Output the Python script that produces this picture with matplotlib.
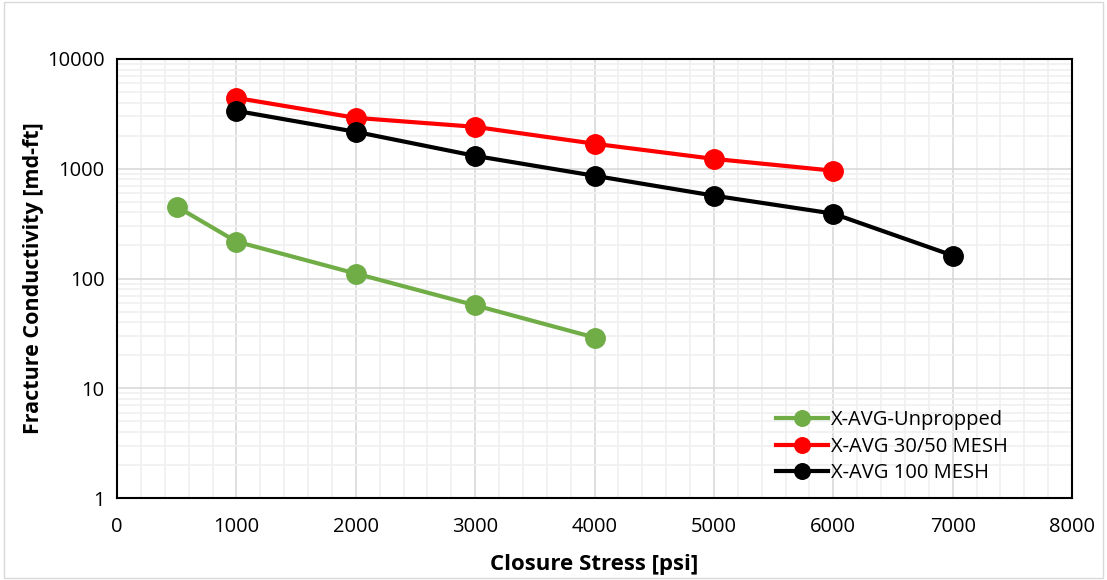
import numpy as np
import matplotlib.pyplot as plt
from matplotlib.ticker import MultipleLocator, LogLocator, NullFormatter, FixedLocator

plt.rcParams['font.family'] = ['Open Sans', 'DejaVu Sans']

stress_unpropped = [500, 1000, 2000, 3000, 4000]
cond_unpropped = [452, 217, 111, 57, 29]

stress_3050 = [1000, 2000, 3000, 4000, 5000, 6000]
cond_3050 = [4420, 2910, 2410, 1690, 1230, 960]

stress_100 = [1000, 2000, 3000, 4000, 5000, 6000, 7000]
cond_100 = [3370, 2170, 1310, 863, 569, 390, 162]

fig = plt.figure(figsize=(11.07, 5.8), dpi=100)
ax = fig.add_axes([117 / 1107, 1 - 498 / 580, (1072 - 117) / 1107, (498 - 59) / 580])

ax.plot(stress_unpropped, cond_unpropped, color='#70ad47', marker='o', ms=14, lw=3,
        label='X-AVG-Unpropped', zorder=3)
ax.plot(stress_3050, cond_3050, color='#ff0000', marker='o', ms=14, lw=3,
        label='X-AVG 30/50 MESH', zorder=3)
ax.plot(stress_100, cond_100, color='black', marker='o', ms=14, lw=3,
        label='X-AVG 100 MESH', zorder=3)

ax.set_yscale('log')
ax.set_xlim(0, 8000)
ax.set_ylim(1, 10000)
ax.xaxis.set_major_locator(MultipleLocator(1000))
ax.xaxis.set_minor_locator(MultipleLocator(200))
ax.yaxis.set_major_locator(FixedLocator([1, 10, 100, 1000, 10000]))
ax.yaxis.set_minor_locator(LogLocator(base=10, subs=np.arange(2, 10)))
ax.yaxis.set_minor_formatter(NullFormatter())
ax.set_yticklabels(['1', '10', '100', '1000', '10000'])

ax.grid(which='major', color='#d9d9d9', lw=1.2)
ax.grid(which='minor', color='#f0f0f0', lw=1.2)
ax.tick_params(which='both', length=0, labelsize=14.5)
ax.tick_params(axis='x', pad=14)
ax.tick_params(axis='y', pad=9)
for s in ax.spines.values():
    s.set_linewidth(1.5)
    s.set_color('black')

ax.set_xlabel('Closure Stress [psi]', fontsize=16, fontweight='bold')
ax.set_ylabel('Fracture Conductivity [md-ft]', fontsize=15.5, fontweight='bold')
ax.xaxis.set_label_coords(0.5, -0.128)
ax.yaxis.set_label_coords(-0.076, 0.5)

ax.legend(loc='lower right', frameon=False, fontsize=14.5, handlelength=2.6,
          handletextpad=0.15, labelspacing=0.32, markerscale=0.8,
          bbox_to_anchor=(0.952, -0.008))

fig.patches.append(plt.Rectangle((0.004, 0.004), 0.992, 0.992, transform=fig.transFigure,
                                 fill=False, edgecolor='#d9d9d9', lw=1))

fig.savefig('out.png', dpi=100)
